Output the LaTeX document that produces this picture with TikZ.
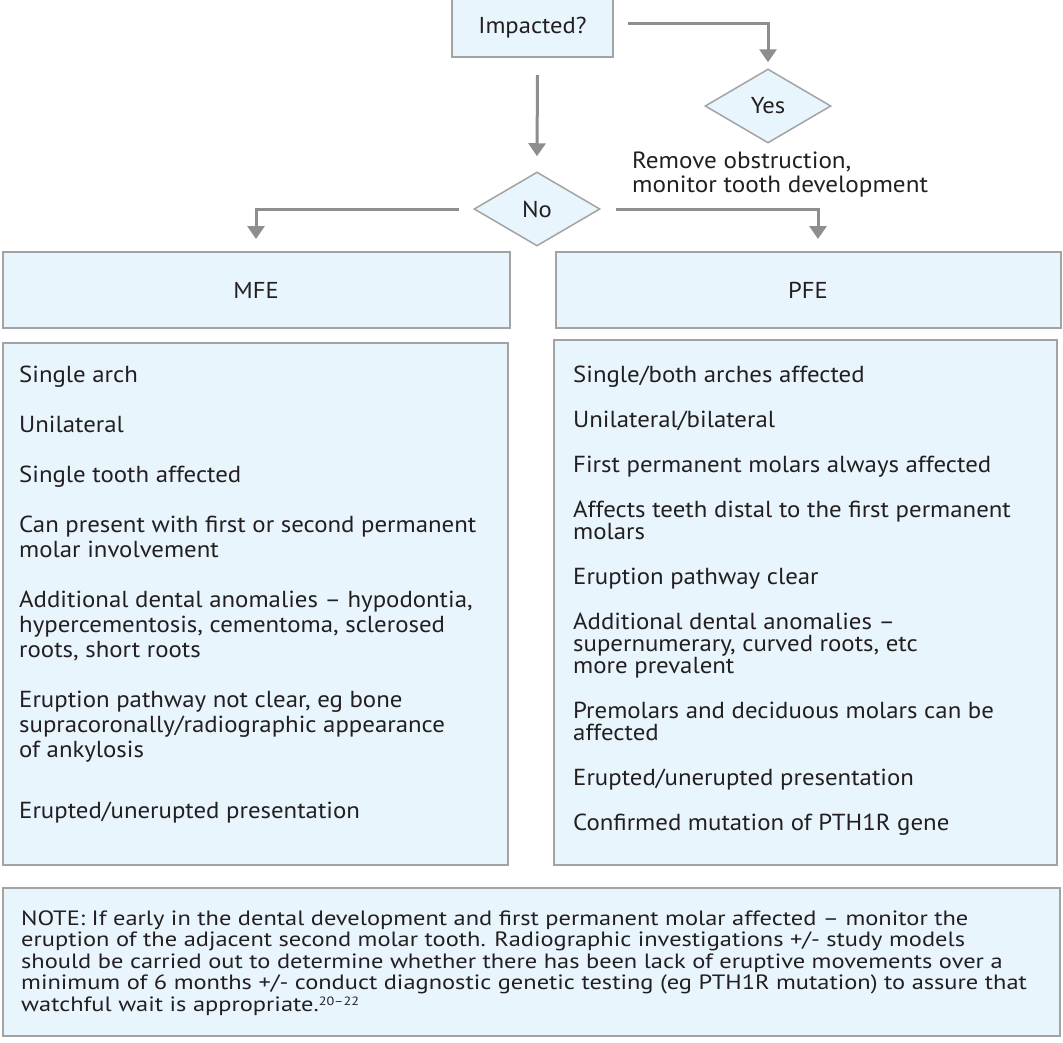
\documentclass[tikz,border=0pt]{standalone}
\usepackage{fontspec}
\setmainfont{PT Sans}[FakeStretch=1.07,Ligatures=TeX]
\newfontfamily\notefont{PT Sans}[FakeStretch=1.18,Ligatures=TeX]
\usetikzlibrary{shapes.geometric,arrows.meta}
\definecolor{boxfill}{HTML}{E8F5FD}
\definecolor{boxline}{HTML}{A3A3A3}
\definecolor{arrgrey}{HTML}{8E8E8E}
\definecolor{txt}{HTML}{231F20}
\tikzset{
  box/.style={draw=boxline,fill=boxfill,line width=2pt,inner sep=0pt},
  lbl/.style={text=txt,font=\fontsize{23}{27}\selectfont},
  dia/.style={shape=diamond,draw=boxline,fill=boxfill,line width=1.5pt,inner sep=0pt,aspect=1.7,minimum width=126pt,minimum height=74pt,lbl},
  arr/.style={draw=arrgrey,line width=3pt,-{Triangle[width=17pt,length=13pt]}},
  ln/.style={anchor=base west,inner sep=0pt,text=txt,font=\fontsize{23.2}{27}\selectfont},
  nt/.style={anchor=base west,inner sep=0pt,text=txt,font=\notefont\fontsize{20.7}{23}\selectfont},
}
\begin{document}
\begin{tikzpicture}[x=1pt,y=-1pt]
\useasboundingbox (0,0) rectangle (1063,1042);
% top
\node[box,minimum width=161pt,minimum height=58pt,lbl] (imp) at (532.5,28) {Impacted?};
\node[dia] (yes) at (768,106) {Yes};
\node[dia] (no) at (537,209) {No};
\node[ln,font=\fontsize{23.5}{27}\selectfont] (rm1) at (632,168) {Remove obstruction,};
\node[ln,font=\fontsize{23.5}{27}\selectfont] (rm2) at (632,192) {monitor tooth development};
% header boxes
\node[box,minimum width=507pt,minimum height=76pt,lbl] (mfe) at (256,290) {MFE};
\node[box,minimum width=505pt,minimum height=76pt,lbl] (pfe) at (808,290) {PFE};
% list boxes
\node[box,minimum width=505pt,minimum height=522pt] (mfel) at (255.5,604) {};
\node[box,minimum width=503pt,minimum height=525pt] (pfel) at (805.5,602.5) {};
\node[box,minimum width=1057pt,minimum height=148pt] (note) at (531.5,961.5) {};
% arrows
\draw[arr] ([xshift=14pt,yshift=5pt]imp.east) -| ([yshift=6pt]yes.north);
\draw[arr] ([xshift=5pt,yshift=-17pt]imp.south) -- ([yshift=15pt]no.north);
\draw[arr] ([xshift=-14pt]no.west) -| ([yshift=12pt]mfe.north);
\draw[arr] ([xshift=15pt]no.east) -| ([xshift=10pt,yshift=12pt]pfe.north);
% MFE list
\node[ln] (a1) at (19,382) {Single arch};
\node[ln] (a2) at (19,432) {Unilateral};
\node[ln] (a3) at (19,482) {Single tooth affected};
\node[ln] (a4) at (19,532) {Can present with first or second permanent};
\node[ln] (a5) at (19,557) {molar involvement};
\node[ln] (a6) at (19,607) {Additional dental anomalies – hypodontia,};
\node[ln] (a7) at (19,632) {hypercementosis, cementoma, sclerosed};
\node[ln] (a8) at (19,657) {roots, short roots};
\node[ln] (a9) at (19,707) {Eruption pathway not clear, eg bone};
\node[ln] (a10) at (19,732) {supracoronally/radiographic appearance};
\node[ln] (a11) at (19,757) {of ankylosis};
\node[ln] (a12) at (19,818) {Erupted/unerupted presentation};
% PFE list
\node[ln] (b1) at (573,382) {Single/both arches affected};
\node[ln] (b2) at (573,427) {Unilateral/bilateral};
\node[ln] (b3) at (573,472) {First permanent molars always affected};
\node[ln] (b4) at (573,517) {Affects teeth distal to the first permanent};
\node[ln] (b5) at (573,539) {molars};
\node[ln] (b6) at (573,584) {Eruption pathway clear};
\node[ln] (b7) at (573,629) {Additional dental anomalies –};
\node[ln] (b8) at (573,651) {supernumerary, curved roots, etc};
\node[ln] (b9) at (573,673) {more prevalent};
\node[ln] (b10) at (573,718) {Premolars and deciduous molars can be};
\node[ln] (b11) at (573,740) {affected};
\node[ln] (b12) at (573,785) {Erupted/unerupted presentation};
\node[ln] (b13) at (573,830) {Confirmed mutation of PTH1R gene};
% note
\node[nt] (n1) at (21,925) {NOTE: If early in the dental development and first permanent molar affected – monitor the};
\node[nt] (n2) at (21,946.5) {eruption of the adjacent second molar tooth. Radiographic investigations +/- study models};
\node[nt] (n3) at (21,968) {should be carried out to determine whether there has been lack of eruptive movements over a};
\node[nt] (n4) at (21,989.5) {minimum of 6 months +/- conduct diagnostic genetic testing (eg PTH1R mutation) to assure that};
\node[nt] (n5) at (21,1011) {watchful wait is appropriate.\raisebox{5.5pt}{\fontsize{12}{12}\selectfont 20–22}};
\end{tikzpicture}
\end{document}
